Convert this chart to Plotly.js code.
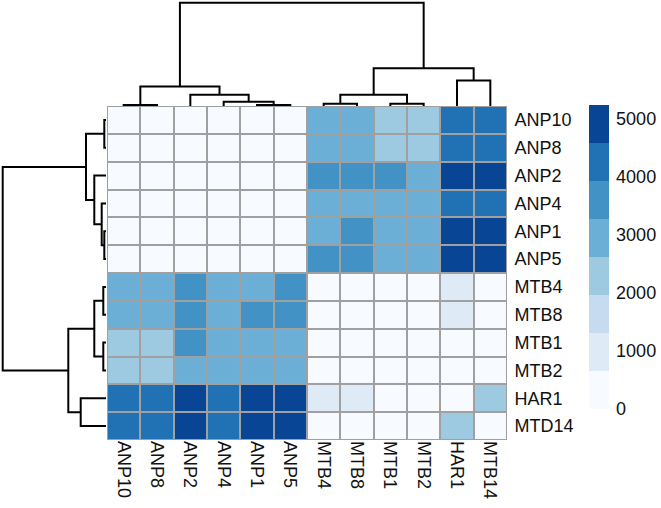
<!DOCTYPE html>
<html>
<head>
<meta charset="utf-8">
<script src="https://cdn.plot.ly/plotly-3.0.1.min.js"></script>
<style>html,body{margin:0;padding:0;background:#fff;}#chart{width:661px;height:508px;}</style>
</head>
<body>
<div id="chart"></div>
<script>
// ---------- DATA ----------
const colLabels = ["ANP10","ANP8","ANP2","ANP4","ANP1","ANP5","MTB4","MTB8","MTB1","MTB2","HAR1","MTB14"];
const rowLabels = ["ANP10","ANP8","ANP2","ANP4","ANP1","ANP5","MTB4","MTB8","MTB1","MTB2","HAR1","MTD14"];

const rowANP10 = [0, 120, 260, 210, 240, 280, 2950, 2900, 2350, 2300, 4300, 4250];
const rowANP8  = [120, 0, 250, 200, 230, 270, 2900, 2880, 2320, 2280, 4280, 4230];
const rowANP2  = [260, 250, 0, 180, 190, 200, 3550, 3500, 3600, 3150, 4900, 4950];
const rowANP4  = [210, 200, 180, 0, 110, 130, 3050, 3000, 3100, 3020, 4200, 4150];
const rowANP1  = [240, 230, 190, 110, 0, 60, 3100, 3550, 3050, 3000, 4950, 4980];
const rowANP5  = [280, 270, 200, 130, 60, 0, 3600, 3650, 3150, 3100, 4900, 4950];
const rowMTB4  = [2950, 2900, 3550, 3050, 3100, 3600, 0, 150, 300, 310, 950, 400];
const rowMTB8  = [2900, 2880, 3500, 3000, 3550, 3650, 150, 0, 310, 320, 980, 420];
const rowMTB1  = [2350, 2320, 3600, 3100, 3050, 3150, 300, 310, 0, 140, 500, 450];
const rowMTB2  = [2300, 2280, 3150, 3020, 3000, 3100, 310, 320, 140, 0, 520, 460];
const rowHAR1  = [4300, 4280, 4900, 4200, 4950, 4900, 950, 980, 500, 520, 0, 2300];
const rowMTD14 = [4250, 4230, 4950, 4150, 4980, 4950, 400, 420, 450, 460, 2300, 0];

// dendrogram merges (hclust style: negative = leaf index+1 in display order, positive = earlier merge number)
const colMerge = [[-1,-2],[-5,-6],[-4,2],[-3,3],[1,4],[-7,-8],[-9,-10],[6,7],[-11,-12],[8,9],[5,10]];
const colHeight = [1.0, 1.0, 4.3, 11.2, 19.4, 2.2, 2.2, 11.2, 25.4, 37.7, 103.3];
const rowMerge = [[-1,-2],[-5,-6],[-4,2],[-3,3],[1,4],[-7,-8],[-9,-10],[6,7],[-11,-12],[8,9],[5,10]];
const rowHeight = [1.7, 1.7, 4.3, 11.7, 20.0, 2.7, 2.7, 11.7, 25.3, 37.7, 103.3];

const colorBins = ["#F7FBFF","#DEEBF7","#C6DBEF","#9ECAE1","#6BAED6","#4292C6","#2171B5","#084594"];
const zMin = 0, zMax = 5240;
const cbTicks = [0,1000,2000,3000,4000,5000];

// ---------- BUILD ----------
const z = [rowANP10,rowANP8,rowANP2,rowANP4,rowANP1,rowANP5,rowMTB4,rowMTB8,rowMTB1,rowMTB2,rowHAR1,rowMTD14];
const n = colLabels.length;
const idx = colLabels.map((_, i) => i);

const cs = [];
colorBins.forEach((c, i) => {
  cs.push([i / colorBins.length, c]);
  cs.push([(i + 1) / colorBins.length, c]);
});

function dendroSegments(merge, heights) {
  const pos = [], hs = [];
  const a = [], b = [];
  merge.forEach((m, k) => {
    const info = m.map(v => v < 0 ? {p: -v - 1, h: 0} : {p: pos[v - 1], h: hs[v - 1]});
    const h = heights[k];
    a.push(info[0].p, info[0].p, info[1].p, info[1].p, null);
    b.push(info[0].h, h, h, info[1].h, null);
    pos.push((info[0].p + info[1].p) / 2);
    hs.push(h);
  });
  return {pos: a, h: b};
}
const cd = dendroSegments(colMerge, colHeight);
const rd = dendroSegments(rowMerge, rowHeight);

// ---------- LAYOUT GEOMETRY ----------
const W = 661, H = 508;
const gL = 107, gR = 507, gT = 106, gB = 440;
const dendTop = 2.7, dendLeft = 2.7, padPx = 2;
const colRoot = Math.max(...colHeight), rowRoot = Math.max(...rowHeight);
const upp = colRoot / (gT - dendTop);           // units per px (top)
const upp2 = rowRoot / ((gL - 1) - dendLeft);   // units per px (left)
const FONT = {family: "Liberation Sans, Arial, sans-serif", size: 18, color: "#111"};

const traces = [
  {
    type: "heatmap", x: idx, y: idx, z: z,
    colorscale: cs, zmin: zMin, zmax: zMax, xgap: 2, ygap: 2,
    xaxis: "x", yaxis: "y", hoverinfo: "skip",
    colorbar: {
      x: 589 / W, xanchor: "left", y: 1 - 105 / H, yanchor: "top",
      len: (409 - 105) / H, lenmode: "fraction", thickness: 20, thicknessmode: "pixels",
      outlinewidth: 0, xpad: 0, ypad: 0, tickvals: cbTicks,
      ticks: "outside", ticklen: 4, tickcolor: "rgba(0,0,0,0)",
      tickfont: FONT
    }
  },
  {
    type: "scatter", mode: "lines", x: cd.pos, y: cd.h, xaxis: "x2", yaxis: "y2",
    line: {color: "#000", width: 2}, hoverinfo: "skip", showlegend: false
  },
  {
    type: "scatter", mode: "lines", x: rd.h, y: rd.pos, xaxis: "x3", yaxis: "y3",
    line: {color: "#000", width: 2}, hoverinfo: "skip", showlegend: false
  }
];

const hid = {showgrid: false, zeroline: false, showline: false, showticklabels: false, ticks: ""};

const layout = {
  width: W, height: H, margin: {l: 0, r: 0, t: 0, b: 0},
  paper_bgcolor: "#fff", plot_bgcolor: "rgba(0,0,0,0)", showlegend: false,
  font: FONT,
  xaxis: {domain: [gL / W, gR / W], range: [-0.5, n - 0.5], tickvals: idx, ticktext: colLabels,
          tickangle: 90, ticks: "", showgrid: false, zeroline: false, showline: false,
          tickfont: FONT, anchor: "y"},
  yaxis: {domain: [1 - gB / H, 1 - gT / H], range: [n - 0.5, -0.5], tickvals: idx, ticktext: rowLabels,
          side: "right", ticks: "outside", ticklen: 3, tickcolor: "rgba(0,0,0,0)",
          showgrid: false, zeroline: false, showline: false, tickfont: FONT, anchor: "x"},
  xaxis2: Object.assign({domain: [gL / W, gR / W], range: [-0.5, n - 0.5], anchor: "y2"}, hid),
  yaxis2: Object.assign({domain: [1 - gT / H, 1 - (dendTop - padPx) / H],
                         range: [0, colRoot + padPx * upp], anchor: "x2"}, hid),
  xaxis3: Object.assign({domain: [(dendLeft - padPx) / W, (gL - 1) / W],
                         range: [rowRoot + padPx * upp2, 0], anchor: "y3"}, hid),
  yaxis3: Object.assign({domain: [1 - gB / H, 1 - gT / H], range: [n - 0.5, -0.5], anchor: "x3"}, hid),
  shapes: [{
    type: "rect", xref: "x", yref: "y", x0: -0.5, x1: n - 0.5, y0: -0.5, y1: n - 0.5,
    fillcolor: "#A0A0A0", line: {color: "#A0A0A0", width: 1}, layer: "below"
  }]
};

Plotly.newPlot("chart", traces, layout, {displayModeBar: false, staticPlot: true});
</script>
</body>
</html>
